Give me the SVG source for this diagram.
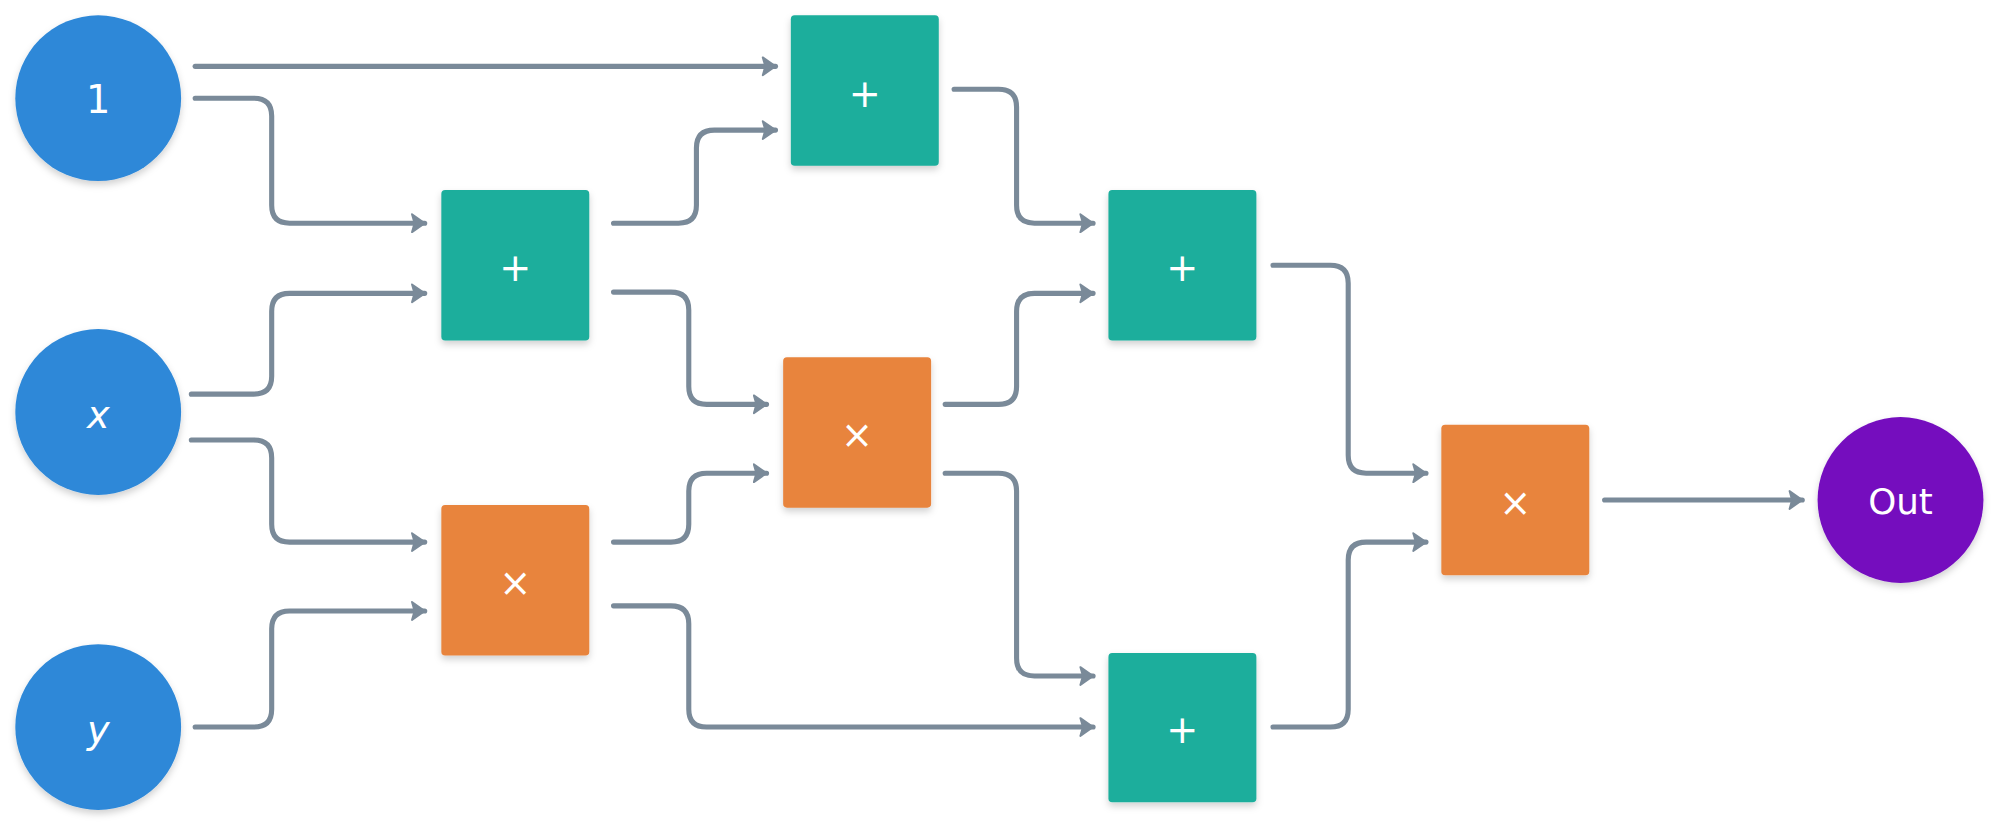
<svg xmlns="http://www.w3.org/2000/svg" width="2000" height="826" viewBox="0 0 2000 826">
<style>
.c{stroke:#7a8a99;stroke-width:4;fill:none;stroke-linecap:round;marker-end:url(#ah)}
.in{fill:#2e88d8}
.add{fill:#1cae9c}
.mul{fill:#e8843c}
.out{fill:#7411be}
.t{fill:#fff;font-family:"DejaVu Sans","Liberation Sans",sans-serif;text-anchor:middle;dominant-baseline:central}
</style>
<defs>
<marker id="ah" markerUnits="userSpaceOnUse" markerWidth="12" markerHeight="16" refX="11" refY="8" orient="auto" viewBox="0 0 12 16">
<path d="M1,1 L11,8 L1,15 L3,8 z" fill="#7a8a99" stroke="#7a8a99" stroke-width="1.5" stroke-linejoin="round"/>
</marker>
<filter id="sh" x="-20%" y="-20%" width="140%" height="150%"><feDropShadow dx="0" dy="3" stdDeviation="3" flood-color="#000" flood-opacity="0.18"/></filter>
</defs>
<rect width="2000" height="826" fill="#fff"/>
<g transform="scale(1.27551)">
<g id="connectors">
<path class="c" d="M153 52 H608"/>
<path class="c" d="M153 77 H199 Q213 77 213 91 V161 Q213 175 227 175 H333"/>
<path class="c" d="M150 309 H199 Q213 309 213 295 V244 Q213 230 227 230 H333"/>
<path class="c" d="M150 345 H199 Q213 345 213 359 V411 Q213 425 227 425 H333"/>
<path class="c" d="M153 570 H199 Q213 570 213 556 V493 Q213 479 227 479 H333"/>
<path class="c" d="M481 175 H532 Q546 175 546 161 V116 Q546 102 560 102 H608"/>
<path class="c" d="M481 229 H526 Q540 229 540 243 V303 Q540 317 554 317 H601"/>
<path class="c" d="M481 425 H526 Q540 425 540 411 V385 Q540 371 554 371 H601"/>
<path class="c" d="M481 475 H526 Q540 475 540 489 V556 Q540 570 554 570 H857"/>
<path class="c" d="M748 70 H783 Q797 70 797 84 V161 Q797 175 811 175 H857"/>
<path class="c" d="M741 317 H783 Q797 317 797 303 V244 Q797 230 811 230 H857"/>
<path class="c" d="M741 371 H783 Q797 371 797 385 V516 Q797 530 811 530 H857"/>
<path class="c" d="M998 208 H1043 Q1057 208 1057 222 V357 Q1057 371 1071 371 H1118"/>
<path class="c" d="M998 570 H1043 Q1057 570 1057 556 V439 Q1057 425 1071 425 H1118"/>
<path class="c" d="M1258 392 H1413"/>
</g>
<g id="in1"><circle class="in" cx="77" cy="77" r="65" filter="url(#sh)"/><text class="t" x="77" y="78" font-size="30">1</text></g>
<g id="inx"><circle class="in" cx="77" cy="323" r="65" filter="url(#sh)"/><text class="t" x="77" y="325" font-size="30" font-style="italic">x</text></g>
<g id="iny"><circle class="in" cx="77" cy="570" r="65" filter="url(#sh)"/><text class="t" x="77" y="572" font-size="30" font-style="italic">y</text></g>
<g id="addA"><rect class="add" x="346" y="149" width="116" height="118" rx="3" filter="url(#sh)"/><text class="t" x="404" y="210" font-size="30">+</text></g>
<g id="mulB"><rect class="mul" x="346" y="396" width="116" height="118" rx="3" filter="url(#sh)"/><text class="t" x="404" y="457" font-size="30">×</text></g>
<g id="addC"><rect class="add" x="620" y="12" width="116" height="118" rx="3" filter="url(#sh)"/><text class="t" x="678" y="73" font-size="30">+</text></g>
<g id="mulD"><rect class="mul" x="614" y="280" width="116" height="118" rx="3" filter="url(#sh)"/><text class="t" x="672" y="341" font-size="30">×</text></g>
<g id="addE"><rect class="add" x="869" y="149" width="116" height="118" rx="3" filter="url(#sh)"/><text class="t" x="927" y="210" font-size="30">+</text></g>
<g id="addF"><rect class="add" x="869" y="512" width="116" height="117" rx="3" filter="url(#sh)"/><text class="t" x="927" y="572" font-size="30">+</text></g>
<g id="mulG"><rect class="mul" x="1130" y="333" width="116" height="118" rx="3" filter="url(#sh)"/><text class="t" x="1188" y="394" font-size="30">×</text></g>
<g id="out"><circle class="out" cx="1490" cy="392" r="65" filter="url(#sh)"/><text class="t" x="1490" y="393" font-size="28">Out</text></g>
</g>
</svg>
